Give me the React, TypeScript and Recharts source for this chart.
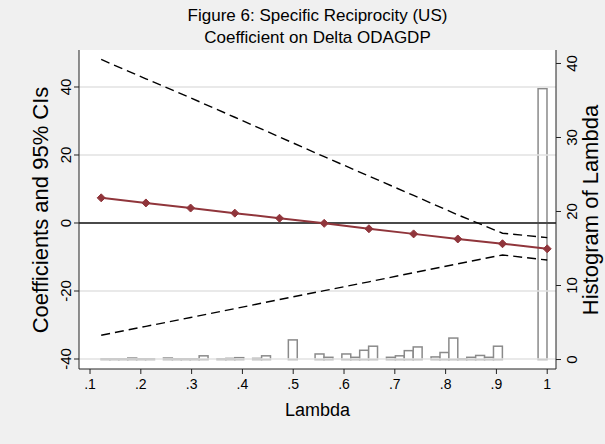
import React from "react";
import {
  ComposedChart,
  Bar,
  Line,
  XAxis,
  YAxis,
  ReferenceLine,
  ReferenceArea,
} from "recharts";

// lambda grid where the coefficient was estimated
const lambdaPts = [0.122, 0.21, 0.298, 0.385, 0.473, 0.561, 0.649, 0.737, 0.824, 0.912, 1.0];
const coefVals = [7.4, 5.9, 4.4, 2.9, 1.4, -0.1, -1.7, -3.2, -4.7, -6.1, -7.6];
const upperCI = [48.1, 42.4, 36.8, 31.1, 25.3, 19.5, 13.8, 8.1, 2.4, -3.0, -4.3];
const lowerCI = [-33.0, -30.4, -27.8, -25.2, -22.5, -19.9, -17.3, -14.6, -12.0, -9.4, -10.9];

// histogram of lambda (bin centres, density)
const binCenters = [
  0.1308, 0.1484, 0.1659, 0.1835, 0.201, 0.2186, 0.2537, 0.2713, 0.2888, 0.3064,
  0.324, 0.3591, 0.3766, 0.3942, 0.4293, 0.4469, 0.4996, 0.5522, 0.5698, 0.6049,
  0.6225, 0.64, 0.6576, 0.6927, 0.7103, 0.7278, 0.7454, 0.7805, 0.7981, 0.8156,
  0.8332, 0.8508, 0.8683, 0.8859, 0.9034, 0.9912,
];
const binDensity = [
  0.1, 0.1, 0.1, 0.2, 0.1, 0.1, 0.2, 0.1, 0.1, 0.1,
  0.5, 0.1, 0.15, 0.25, 0.15, 0.5, 2.65, 0.75, 0.3, 0.75,
  0.3, 1.25, 1.8, 0.3, 0.5, 1.2, 1.7, 0.35, 0.95, 2.9,
  0.1, 0.3, 0.55, 0.3, 1.8, 36.6,
];

const xTicks = [0.1, 0.2, 0.3, 0.4, 0.5, 0.6, 0.7, 0.8, 0.9, 1];
const coefTicks = [-40, -20, 0, 20, 40];
const histTicks = [0, 10, 20, 30, 40];

const FONT = '"Liberation Sans", Arial, Helvetica, sans-serif';
const COEF_COLOR = "#90353B";
const X_DOMAIN: [number, number] = [0.0783, 1.0173];
const COEF_DOMAIN: [number, number] = [-42.94, 50.88];
const BIN_PX = 8.9;

const histData = binCenters.map((x, i) => ({ x, density: binDensity[i] }));
const lineData = lambdaPts.map((x, i) => ({
  x,
  coef: coefVals[i],
  upper: upperCI[i],
  lower: lowerCI[i],
}));

const fmtX = (v: number) => (v === 1 ? "1" : v.toFixed(1).replace(/^0/, ""));

const LeftTick = ({ x, y, payload }: any) => (
  <text
    x={x - 1}
    y={y}
    transform={`rotate(-90, ${x - 1}, ${y})`}
    textAnchor="middle"
    fontSize={15}
    fontFamily={FONT}
    fill="#000"
  >
    {payload.value}
  </text>
);

const RightTick = ({ x, y, payload }: any) => (
  <text
    x={x + 14}
    y={y}
    transform={`rotate(-90, ${x + 14}, ${y})`}
    textAnchor="middle"
    fontSize={15}
    fontFamily={FONT}
    fill="#000"
  >
    {payload.value}
  </text>
);

const BottomTick = ({ x, y, payload }: any) => (
  <text x={x} y={y + 13} textAnchor="middle" fontSize={14} fontFamily={FONT} fill="#000">
    {fmtX(payload.value)}
  </text>
);

// histogram bars touch each other, so draw them one bin wide
const HistBar = ({ x, y, width, height }: any) => {
  if (!height || height <= 0) return null;
  const cx = x + width / 2;
  return (
    <rect
      x={cx - BIN_PX / 2}
      y={y}
      width={BIN_PX}
      height={height}
      fill="#ffffff"
      stroke="#8a8a8a"
      strokeWidth={1.5}
    />
  );
};

const Diamond = ({ cx, cy }: any) => {
  if (cx == null || cy == null) return null;
  const r = 4;
  return (
    <polygon
      points={`${cx},${cy - r} ${cx + r},${cy} ${cx},${cy + r} ${cx - r},${cy}`}
      fill={COEF_COLOR}
      stroke={COEF_COLOR}
    />
  );
};

export default function App() {
  return (
    <div
      style={{
        position: "absolute",
        left: 0,
        top: 0,
        width: 605,
        height: 444,
        background: "#f0f0f0",
        fontFamily: FONT,
      }}
    >
      <ComposedChart
        width={605}
        height={444}
        data={histData}
        margin={{ top: 50, right: 0, bottom: 0, left: 0 }}
      >
        <XAxis
          dataKey="x"
          type="number"
          domain={X_DOMAIN}
          allowDataOverflow
          ticks={xTicks}
          tick={<BottomTick />}
          tickSize={5}
          stroke="#222"
          height={75}
        />
        <YAxis
          yAxisId="coef"
          orientation="left"
          type="number"
          domain={COEF_DOMAIN}
          allowDataOverflow
          ticks={coefTicks}
          tick={<LeftTick />}
          tickSize={5}
          stroke="#222"
          width={79}
        />
        <YAxis
          yAxisId="hist"
          orientation="right"
          type="number"
          domain={[-1.28, 41.82]}
          allowDataOverflow
          ticks={histTicks}
          tick={<RightTick />}
          tickSize={5}
          stroke="#222"
          width={49}
        />
        <ReferenceArea
          yAxisId="coef"
          x1={X_DOMAIN[0]}
          x2={X_DOMAIN[1]}
          y1={COEF_DOMAIN[0]}
          y2={COEF_DOMAIN[1]}
          fill="#ffffff"
          fillOpacity={1}
          stroke="none"
        />
        {coefTicks
          .filter((t) => t !== 0)
          .map((t) => (
            <ReferenceLine key={t} yAxisId="coef" y={t} stroke="#e2e2e2" strokeWidth={1.5} />
          ))}
        <Bar
          yAxisId="hist"
          dataKey="density"
          shape={<HistBar />}
          isAnimationActive={false}
        />
        <ReferenceLine yAxisId="coef" y={0} stroke="#4a4a4a" strokeWidth={2} />
        <Line
          yAxisId="coef"
          data={lineData}
          dataKey="upper"
          stroke="#000"
          strokeWidth={1.4}
          strokeDasharray="9 5"
          dot={false}
          isAnimationActive={false}
        />
        <Line
          yAxisId="coef"
          data={lineData}
          dataKey="lower"
          stroke="#000"
          strokeWidth={1.4}
          strokeDasharray="9 5"
          dot={false}
          isAnimationActive={false}
        />
        <Line
          yAxisId="coef"
          data={lineData}
          dataKey="coef"
          stroke={COEF_COLOR}
          strokeWidth={2}
          dot={<Diamond />}
          isAnimationActive={false}
        />
      </ComposedChart>
      <svg
        width={605}
        height={444}
        style={{ position: "absolute", left: 0, top: 0, pointerEvents: "none" }}
      >
        <text x={317.5} y={21} textAnchor="middle" fontSize={17} fontFamily={FONT}>
          Figure 6: Specific Reciprocity (US)
        </text>
        <text x={317.5} y={43} textAnchor="middle" fontSize={17} fontFamily={FONT}>
          Coefficient on Delta ODAGDP
        </text>
        <text x={317.5} y={416} textAnchor="middle" fontSize={18} fontFamily={FONT}>
          Lambda
        </text>
        <text
          x={48}
          y={210}
          transform="rotate(-90, 48, 210)"
          textAnchor="middle"
          fontSize={22}
          fontFamily={FONT}
        >
          Coefficients and 95% CIs
        </text>
        <text
          x={598}
          y={210}
          transform="rotate(-90, 598, 210)"
          textAnchor="middle"
          fontSize={22}
          fontFamily={FONT}
        >
          Histogram of Lambda
        </text>
      </svg>
    </div>
  );
}
